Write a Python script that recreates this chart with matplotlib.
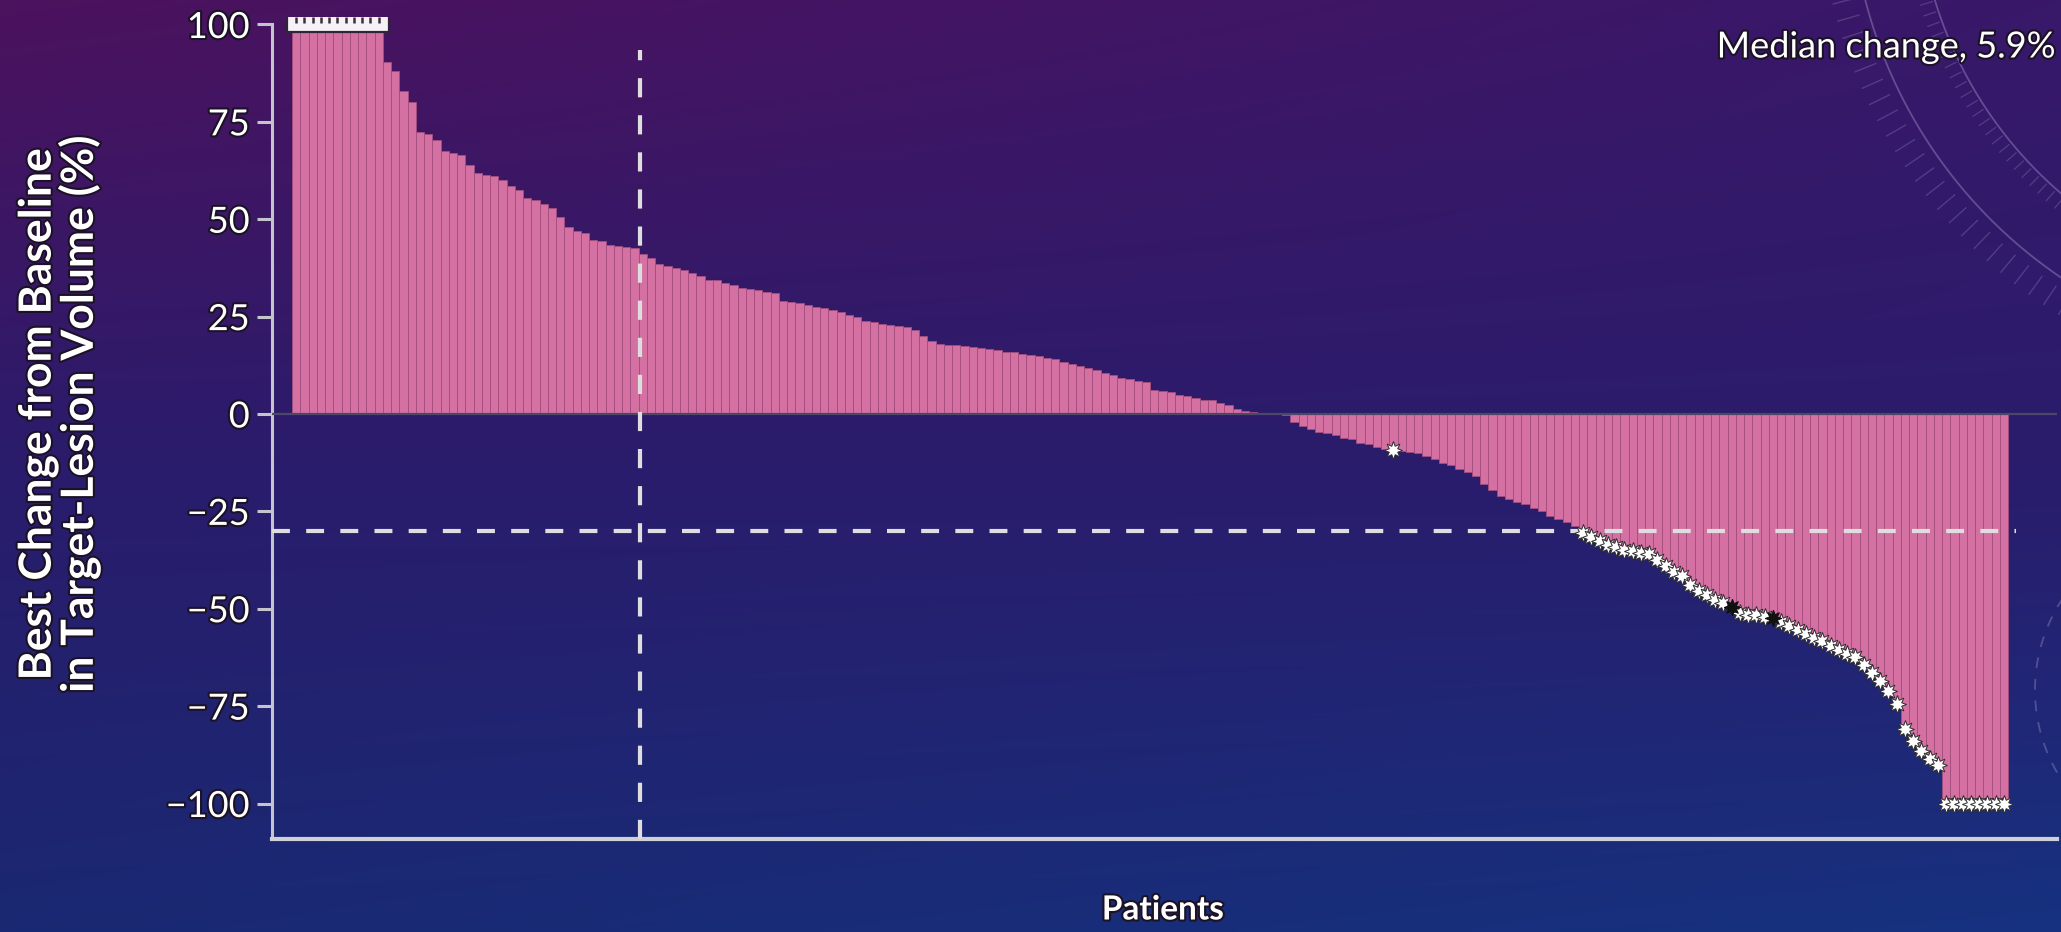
import numpy as np
import matplotlib
matplotlib.use("Agg")
import matplotlib.pyplot as plt
from matplotlib import font_manager
from matplotlib.patches import Rectangle
import matplotlib.patheffects as pe

best_change = [
    100, 100, 100, 100, 100, 100, 100, 100, 100, 100, 100,
    90.5, 88, 83, 80, 72.5, 72, 70.3, 67.5, 67, 66.5,
    64, 62, 61.3, 61, 60, 58.5, 57.5, 55.5, 55, 54,
    53, 50.5, 48, 47, 46.4, 44.7, 44.5, 43.5, 43.2, 42.8,
    42.5, 41, 40, 38.5, 38, 37.5, 37, 36.3, 35.5, 34.5,
    34.3, 33.6, 33, 32.3, 32, 31.8, 31.2, 31, 29, 28.7,
    28.5, 28, 27.5, 27.2, 26.7, 26.3, 25.4, 24.8, 24, 23.5,
    23, 22.8, 22.6, 22.3, 21.6, 20, 18.8, 18, 17.7, 17.6,
    17.4, 17.2, 17, 16.8, 16.5, 16, 15.8, 15.5, 15.2, 14.8,
    14.5, 14.2, 13.4, 12.8, 12.2, 11.7, 11.2, 10.5, 10, 9.3,
    9, 8.5, 8.2, 6.2, 6, 5.7, 5, 4.6, 4, 3.7,
    3.5, 2.7, 2.3, 1.2, 0.8, 0.5, 0.3, 0.2, 0.1, -0.3,
    -2, -3.2, -3.8, -4.5, -5, -5.3, -6.2, -6.5, -7.5, -7.8,
    -8.5, -9, -9.3, -9.6, -9.8, -10, -10.8, -11.5, -12.5, -13,
    -14.2, -15, -16, -18, -19.5, -21, -21.8, -22.5, -23.2, -24.2,
    -25, -26.2, -27, -27.8, -28.8, -30.5, -31.5, -32.5, -33.6, -34.2,
    -35, -35.3, -35.6, -36, -37.5, -39, -40.5, -41.5, -44, -45.5,
    -46.5, -47.8, -48.5, -49.5, -51, -51.5, -51.7, -52, -52.3, -53.5,
    -54.5, -55.5, -56.5, -57.5, -58.3, -59.5, -60.5, -61.5, -62.5, -64.5,
    -66.5, -68.5, -71, -74.5, -81, -84, -86.5, -88.5, -90,
    -100, -100, -100, -100, -100, -100, -100, -100,
]
# patients flagged with a white star / a dark star
star_patients = [133] + [i for i in range(156, 208) if i not in (174, 179)]
dark_patients = [174, 179]

y_ticks = [-100, -75, -50, -25, 0, 25, 50, 75, 100]
response_cut = -30
split_patient = 41.7
median_text = "Median change, 5.9%"
ylabel_text = "Best Change from Baseline\nin Target-Lesion Volume (%)"
xlabel_text = "Patients"

# ---------------- fonts ----------------
def pick_font(names):
    for n in names:
        try:
            font_manager.findfont(font_manager.FontProperties(family=n),
                                  fallback_to_default=False)
            return n
        except Exception:
            pass
    return "DejaVu Sans"

tick_font = pick_font(["Liberation Sans Narrow", "Lato", "DejaVu Sans"])
label_font = pick_font(["Lato", "Open Sans", "DejaVu Sans"])
halo = [pe.withStroke(linewidth=3, foreground="#1c1226")]

# ---------------- figure + background ----------------
W, H = 2061, 932
fig = plt.figure(figsize=(W / 100, H / 100), dpi=100)

bg = fig.add_axes([0, 0, 1, 1])
gy, gx = np.mgrid[0:1:240j, 0:1:520j]
tl, tr = np.array([76, 18, 94]), np.array([56, 24, 106])
mid = np.array([42, 28, 108])
bl, br = np.array([26, 40, 114]), np.array([22, 50, 128])
s = gx[..., None]
t = gy[..., None]
top = tl * (1 - s) + tr * s
bot = bl * (1 - s) + br * s
img = np.where(t < 0.5, top * (1 - 2 * t) + mid * 2 * t,
               mid * (2 - 2 * t) + bot * (2 * t - 1)) / 255.0
bg.imshow(img, extent=[0, W, H, 0], aspect="auto", interpolation="bilinear")
bg.set_xlim(0, W)
bg.set_ylim(H, 0)
bg.axis("off")

# faint dial decoration top right
cx, cy = 2330, -120
for r in (413, 480):
    th = np.radians(np.linspace(110, 175, 300))
    bg.plot(cx + r * np.cos(th), cy + r * np.sin(th), color="#9a90c4", lw=1.3, alpha=0.45)
for a in np.arange(112, 172, 2.0):
    th = np.radians(a)
    bg.plot([cx + 490 * np.cos(th), cx + 512 * np.cos(th)],
            [cy + 490 * np.sin(th), cy + 512 * np.sin(th)], color="#9a90c4", lw=1, alpha=0.3)
for a in np.arange(112, 172, 1.5):
    th = np.radians(a)
    bg.plot([cx + 416 * np.cos(th), cx + 428 * np.cos(th)],
            [cy + 416 * np.sin(th), cy + 428 * np.sin(th)], color="#9a90c4", lw=0.9, alpha=0.3)
th = np.radians(np.linspace(150, 215, 100))
bg.plot(2200 + 165 * np.cos(th), 690 + 165 * np.sin(th), color="#9a90c4", lw=1.3,
        alpha=0.4, dashes=(6, 6))

# ---------------- waterfall ----------------
ylo, yhi = -109, 102
px_unit = (803 - 24) / 200.0
ax_bottom = 1 - (414 - ylo * px_unit) / H
ax_top = 1 - (414 - yhi * px_unit) / H
ax = fig.add_axes([272 / W, ax_bottom, (2057 - 272) / W, ax_top - ax_bottom])
ax.patch.set_alpha(0)

vals = np.array(best_change, dtype=float)
n = len(vals)
x = np.arange(n)
ax.bar(x, vals, width=1.0, color="#d570a3", edgecolor="#a24e7e", linewidth=0.6, zorder=2)
ax.axhline(0, color="#4b4868", lw=1.6, zorder=3)

# capped bars (>= 100) shown inside an open box
capped = x[vals >= 100]
ax.add_patch(Rectangle((capped[0] - 1.1, 98.2), capped[-1] - capped[0] + 2.4, 5.8,
                       facecolor="#f6f2f6", edgecolor="#2e2636", lw=1.6, zorder=4))
ax.plot(capped, np.full(len(capped), 101.1), ls="none", marker="|", ms=5, mew=1.8,
        color="#3a3040", zorder=5)

ax.plot(x[star_patients], vals[star_patients], ls="none", marker=(8, 1, 0), ms=13,
        mfc="white", mec="#2c2c2c", mew=0.7, zorder=5)
ax.plot(x[dark_patients], vals[dark_patients], ls="none", marker=(8, 1, 0), ms=12,
        mfc="#111111", mec="#111111", mew=0.7, zorder=5)

xlo = -0.5 - 20 / 8.25
xhi = n - 0.5 + 49 / 8.25
ax.plot([xlo, n + 0.5], [response_cut, response_cut], color="#dedede", lw=3,
        dashes=(4.3, 3.9), zorder=4)
ax.plot([split_patient, split_patient], [ylo, 93.5], color="#dedede", lw=3,
        dashes=(4.6, 4.3), zorder=4)

ax.set_xlim(xlo, xhi)
ax.set_ylim(ylo, yhi)
ax.set_xticks([])
ax.set_yticks(y_ticks)
ax.set_yticklabels([f"{v}".replace("-", "\u2212") for v in y_ticks])
ax.tick_params(axis="y", length=11, width=2.2, color="#c4c4cc", pad=5,
               labelsize=26, labelcolor="white")
for lbl in ax.get_yticklabels():
    lbl.set_fontfamily(tick_font)
    lbl.set_path_effects(halo)
for side in ("top", "right"):
    ax.spines[side].set_visible(False)
ax.spines["left"].set_color("#c4c4cc")
ax.spines["left"].set_linewidth(2.2)
ax.spines["left"].set_bounds(ylo, 100)
ax.spines["bottom"].set_color("#d0d0d8")
ax.spines["bottom"].set_linewidth(3)

# ---------------- texts ----------------
fig.text(59 / W, 1 - 414 / H, ylabel_text, rotation=90, ha="center", va="center",
         multialignment="center", fontsize=32, fontweight="bold", color="white",
         family=label_font, linespacing=1.0, path_effects=halo)
fig.text(1163 / W, 1 - 910 / H, xlabel_text, ha="center", va="center", fontsize=24,
         fontweight="bold", color="white", family=label_font, path_effects=halo)
fig.text(2055 / W, 1 - 47 / H, median_text, ha="right", va="center", fontsize=26,
         color="white", family=label_font, path_effects=halo)

fig.savefig("out.png", dpi=100)
